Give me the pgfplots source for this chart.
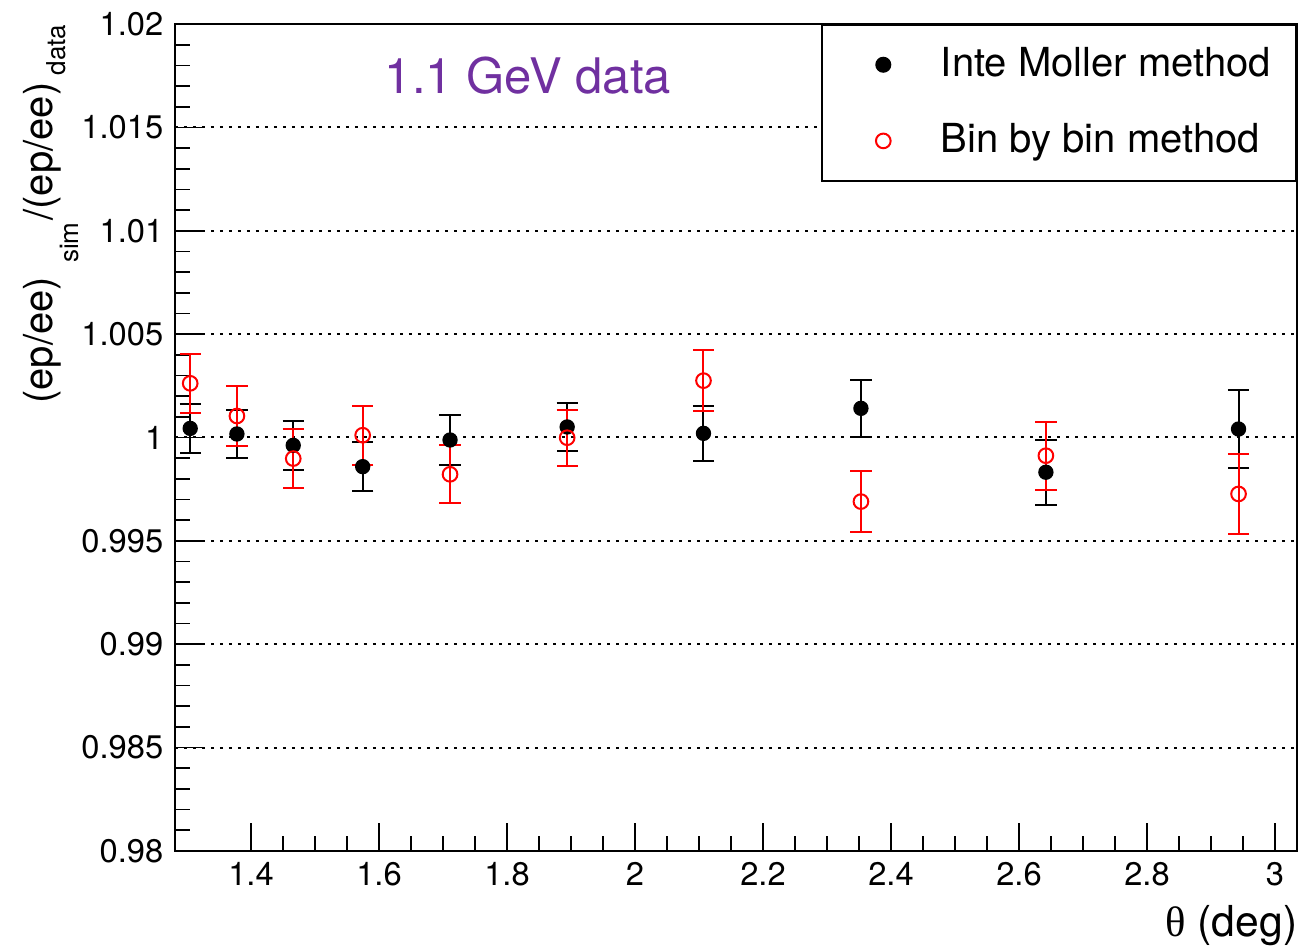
\documentclass[border=0pt]{standalone}
\usepackage{pgfplots}
\pgfplotsset{compat=1.18}
\usepackage{pgfplotstable}
\usepackage{fontspec}
\setmainfont{TeX Gyre Heros}
\newfontfamily\greekserif{Liberation Serif}
\definecolor{titlepurple}{RGB}{112,48,160}
\definecolor{rootred}{RGB}{255,0,0}
\newcommand\rsub[4]{\kern#1\raisebox{-#2}{\fontsize{7.8}{9}\selectfont #4}\kern#3}

\pgfplotstableread{
x y e
1.305 1.00044 0.00118
1.378 1.00017 0.00118
1.466 0.99962 0.00119
1.5745 0.99859 0.00119
1.711 0.99988 0.00119
1.894 1.00051 0.00117
2.107 1.00020 0.00132
2.353 1.00141 0.00138
2.642 0.99832 0.00157
2.943 1.00041 0.00188
}\inteMoller

\pgfplotstableread{
x y e
1.305 1.00262 0.00143
1.378 1.00104 0.00143
1.466 0.99898 0.00143
1.5745 1.00011 0.00143
1.711 0.99822 0.00140
1.894 0.99999 0.00135
2.107 1.00275 0.00149
2.353 0.99690 0.00148
2.642 0.99912 0.00164
2.943 0.99727 0.00193
}\binbybin

\begin{document}
\begin{tikzpicture}
\begin{axis}[
  name=ax,
  scale only axis,
  width=336.6pt, height=248.1pt,
  xmin=1.28125, xmax=3.034375,
  ymin=0.98, ymax=1.02,
  axis line style={line width=0.6pt},
  tick align=inside,
  xtick pos=bottom, ytick pos=left,
  xtick={1.4,1.6,1.8,2,2.2,2.4,2.6,2.8,3},
  xticklabels={1.4,1.6,1.8,2,2.2,2.4,2.6,2.8,3},
  ytick={0.98,0.985,0.99,0.995,1,1.005,1.01,1.015,1.02},
  yticklabels={0.98,0.985,0.99,0.995,1,1.005,1.01,1.015,1.02},
  minor x tick num=3,
  minor y tick num=4,
  major tick length=8.5pt,
  minor tick length=4.5pt,
  tick style={line width=0.5pt, black},
  ticklabel style={font=\fontsize{9.8}{11}\selectfont},
  /pgf/number format/assume math mode=true,
  ymajorgrids,
  major grid style={black, line width=0.6pt, dash pattern=on 0.8pt off 1.9pt},
  xlabel={{\greekserif θ} (deg)},
  xlabel style={at={(rel axis cs:1,0)}, anchor=north east, inner sep=0pt, yshift=-16pt, xshift=0.3pt, font=\fontsize{12.8}{14}\selectfont},
  ylabel={(ep/ee)\rsub{4.2pt}{7.8pt}{0.6pt}{sim}/(ep/ee)\rsub{2.2pt}{3.9pt}{0pt}{data}},
  ylabel style={at={(rel axis cs:-0.1096,1.0)}, rotate=0, anchor=base east, inner sep=0pt, font=\fontsize{12}{13}\selectfont},
  legend style={at={(rel axis cs:1,1)}, anchor=north east, draw=black, line width=0.6pt, fill=white,
    font=\fontsize{12}{13}\selectfont, inner xsep=5.5pt, inner ysep=4.8pt, row sep=8.6pt,
    /tikz/every even column/.append style={column sep=2pt}},
  legend cell align=left,
  legend image code/.code={\path (-12.6pt,0pt) (15pt,0pt); \draw[#1] plot coordinates {(0pt,0pt)};},
]
\addplot[black, only marks, mark=*, mark size=2.1pt,
  error bars/.cd, y dir=both, y explicit,
  error bar style={line width=0.6pt, black},
  error mark options={rotate=90, mark size=3.2pt, line width=0.6pt, black}]
  table[x=x, y=y, y error=e] {\inteMoller};
\addlegendentry{Inte Moller method}
\addplot[rootred, only marks, mark=o, mark size=2.2pt, mark options={line width=0.6pt, fill=white},
  error bars/.cd, y dir=both, y explicit,
  error bar style={line width=0.6pt, rootred},
  error mark options={rotate=90, mark size=3.2pt, line width=0.6pt, rootred}]
  table[x=x, y=y, y error=e] {\binbybin};
\addlegendentry{Bin by bin method}
\node[text=titlepurple, font=\fontsize{14.7}{16}\selectfont, inner sep=0pt] at (axis cs:1.8328,1.01749) {1.1 GeV data};
\end{axis}
\pgfresetboundingbox
\path[use as bounding box] ([shift={(-52.5pt,-28.2pt)}]ax.south west) rectangle ([shift={(1.2pt,7.2pt)}]ax.north east);
\end{tikzpicture}
\end{document}
